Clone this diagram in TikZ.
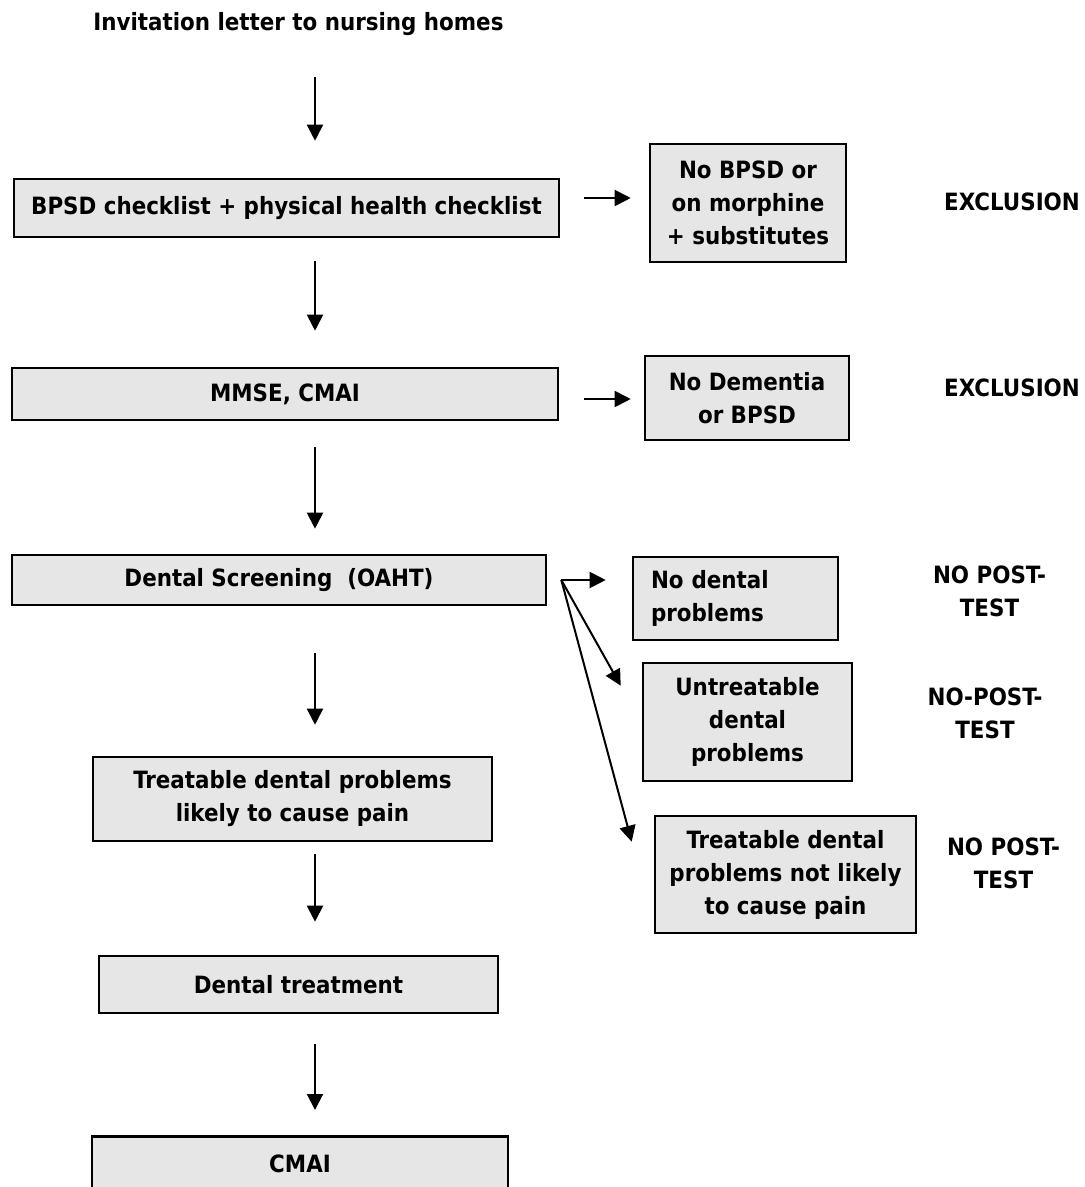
\documentclass[tikz,border=0pt]{standalone}
\usepackage{fontspec}
\setmainfont{DejaVu Sans Condensed}
\usepackage{tikz}
\usetikzlibrary{positioning, arrows.meta, calc}
\definecolor{boxgray}{HTML}{E6E6E6}
\newcommand{\boxfont}{\bfseries\fontsize{11.9}{16.5}\selectfont}
\tikzset{
  stage/.style={draw=black, line width=1.3pt, fill=boxgray, align=center, font=\boxfont, inner sep=0pt},
  outcome/.style={draw=black, line width=1.3pt, fill=boxgray, align=center, font=\boxfont, inner sep=0pt},
  verdict/.style={align=center, font=\boxfont, inner sep=0pt},
  flow/.style={-{Triangle[length=8pt, width=8pt]}, line width=1pt, draw=black},
}

\begin{document}
\begin{tikzpicture}[x=0.5pt, y=-0.5pt]
  \useasboundingbox (0,0) rectangle (1085,1187);
  % Main column
  \node[verdict, anchor=west] (invite) at (93,24) {Invitation letter to nursing homes};
  \node[stage, minimum width=272.5pt, minimum height=29pt] (bpsd) at (286.5,208) {BPSD checklist + physical health checklist};
  \node[stage, minimum width=273pt, minimum height=26pt] (mmse) at (285,394) {MMSE, CMAI};
  \node[stage, minimum width=267pt, minimum height=25pt] (screen) at (279,580) {Dental Screening~ (OAHT)};
  \node[stage, minimum width=199.5pt, minimum height=42pt] (likely) at (292.5,799) {Treatable dental problems\\likely to cause pain};
  \node[stage, minimum width=199.5pt, minimum height=28.5pt] (treat) at (298.5,984.5) {Dental treatment};
  \node[stage, anchor=north, minimum width=208pt, inner ysep=9.5pt, text depth=30pt] (cmai) at (300,1135) {CMAI};

  % Side outcomes
  \node[outcome, minimum width=98pt, minimum height=59pt] (nobpsd) at (748,203) {No BPSD or\\on morphine\\+ substitutes};
  \node[outcome, minimum width=102pt, minimum height=42pt] (nodem) at (747,398) {No Dementia\\or BPSD};
  \node[outcome, minimum width=102.5pt, minimum height=41.5pt, text width=84.5pt, align=left] (nodental) at (735.5,598.5) {No dental\\problems};
  \node[outcome, minimum width=104.5pt, minimum height=59pt] (untreat) at (747.5,722) {Untreatable\\dental\\problems};
  \node[outcome, minimum width=130.5pt, minimum height=58.5pt] (notlikely) at (785.5,874.5) {Treatable dental\\problems not likely\\to cause pain};

  % Verdicts on the right
  \node[verdict] (excl1) at (1012,202) {EXCLUSION};
  \node[verdict] (excl2) at (1012,388) {EXCLUSION};
  \node[verdict] (post1) at (989.5,591.5) {NO POST-\\TEST};
  \node[verdict] (post2) at (985,713.5) {NO-POST-\\TEST};
  \node[verdict] (post3) at (1003.5,863) {NO POST-\\TEST};

  % Downward flow
  \coordinate (spine) at (315,0);
  \draw[flow, shorten <=20.5pt, shorten >=18.5pt] (spine |- invite.south) -- (spine |- bpsd.north);
  \draw[flow, shorten <=11.5pt, shorten >=18pt] (spine |- bpsd.south) -- (spine |- mmse.north);
  \draw[flow, shorten <=13pt, shorten >=12.5pt] (spine |- mmse.south) -- (spine |- screen.north);
  \draw[flow, shorten <=23.5pt, shorten >=15.5pt] (spine |- screen.south) -- (spine |- likely.north);
  \draw[flow, shorten <=6pt, shorten >=16.5pt] (spine |- likely.south) -- (spine |- treat.north);
  \draw[flow, shorten <=15pt, shorten >=12.5pt] (spine |- treat.south) -- (spine |- cmai.north);

  % Exclusions
  \draw[flow, shorten <=12pt, shorten >=9pt] ([yshift=5pt]bpsd.east) -- ([yshift=5pt]bpsd.east -| nobpsd.west);
  \draw[flow, shorten <=12.5pt, shorten >=6.5pt] ([yshift=-2.5pt]mmse.east) -- ([yshift=-2.5pt]mmse.east -| nodem.west);

  % Screening fan
  \coordinate[right=7pt of screen.east] (fan);
  \draw[flow, shorten >=13pt] (fan) -- (fan -| nodental.west);
  \draw[flow] (fan) -- ($(untreat.north west)+(-10.5pt,-12pt)$);
  \draw[flow] (fan) -- ($(notlikely.north west)+(-11pt,-13.5pt)$);
\end{tikzpicture}
\end{document}
